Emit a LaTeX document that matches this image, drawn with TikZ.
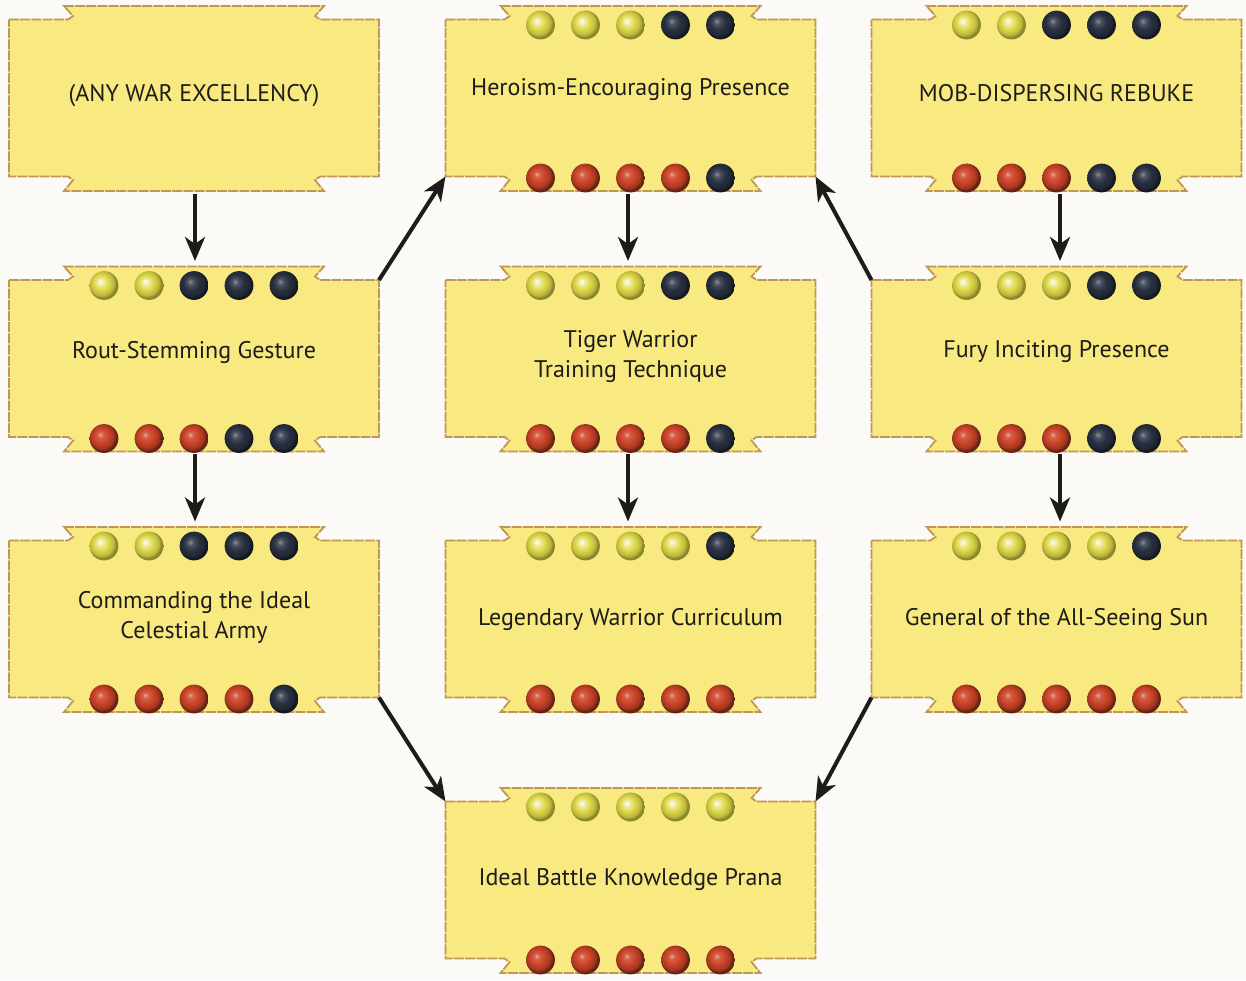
\documentclass[tikz,border=0pt]{standalone}
\usepackage{fontspec}
\setmainfont{PT Sans}
\usetikzlibrary{arrows.meta}
\definecolor{cardfill}{RGB}{248,233,128}
\definecolor{cardedge}{RGB}{192,150,84}
\definecolor{ycol}{RGB}{222,216,72}
\definecolor{dcol}{RGB}{40,48,64}
\definecolor{rcol}{RGB}{204,68,40}
\definecolor{bgcol}{RGB}{252,250,247}
\definecolor{inkcol}{RGB}{30,28,26}
\pgfdeclareradialshading{ballY}{\pgfpoint{-7bp}{7bp}}{color(0bp)=(white); color(4bp)=(ycol!40!white); color(13bp)=(ycol); color(21bp)=(ycol!85!black); color(25bp)=(ycol!62!black); color(50bp)=(ycol!62!black)}
\pgfdeclareradialshading{ballD}{\pgfpoint{-7bp}{7bp}}{color(0bp)=(dcol!55!white); color(6bp)=(dcol!85!white); color(14bp)=(dcol); color(22bp)=(dcol!80!black); color(25bp)=(dcol!50!black); color(50bp)=(dcol!50!black)}
\pgfdeclareradialshading{ballR}{\pgfpoint{-7bp}{7bp}}{color(0bp)=(rcol!45!white); color(5bp)=(rcol!85!white); color(13bp)=(rcol); color(21bp)=(rcol!80!black); color(25bp)=(rcol!50!black); color(50bp)=(rcol!50!black)}
\tikzset{
  cardnode/.style={rectangle, minimum width=185pt, minimum height=78.5pt, inner sep=0pt, outer sep=0pt},
  card/.style={fill=cardfill, draw=cardedge, line width=0.9pt, dash pattern=on 5pt off 0.6pt, line join=miter},
  lbl/.style={font=\fontsize{12}{15}\selectfont, align=center, text=inkcol, inner sep=1pt},
  arr/.style={draw=inkcol, line width=2pt, -{Stealth[length=12pt,width=10pt,inset=3.5pt]}},
}
% name, cx, cy, text y, text
\newcommand\card[5]{%
  \node[cardnode] (#1) at (#2,#3) {};
  \begin{scope}[shift={(#2,#3)}]
    \filldraw[card] (-185,-78.5) -- (-126,-78.5) -- (-121,-82) -- (-130,-92) -- (130,-92) -- (121,-82) -- (126,-78.5) -- (185,-78.5)
      -- (185,78.5) -- (126,78.5) -- (121,82) -- (130,93) -- (-130,93) -- (-121,82) -- (-126,78.5) -- (-185,78.5) -- cycle;
  \end{scope}
  \node[lbl] (#1-t) at (#2,#4) {#5};
}
% cx, cy, top list, bottom list
\newcommand\dotrow[4]{%
  \foreach \c [count=\i] in {#3} {\shade[shading=ball\c] (#1-135+45*\i,#2-73) circle[radius=7.2pt];}
  \foreach \c [count=\i] in {#4} {\shade[shading=ball\c] (#1-135+45*\i,#2+80) circle[radius=7.2pt];}
}
\begin{document}
\begin{tikzpicture}[x=0.5pt,y=-0.5pt]
\useasboundingbox (0,0) rectangle (1246,980);
\fill[bgcol] (0,0) rectangle (1246,980);

\card{any}{194}{98}{96}{(ANY WAR EXCELLENCY)}
\card{hero}{630.5}{98}{90}{Heroism-Encouraging Presence}
\dotrow{630.5}{98}{Y,Y,Y,D,D}{R,R,R,R,D}
\card{mob}{1056.5}{98}{93}{MOB-DISPERSING REBUKE}
\dotrow{1056.5}{98}{Y,Y,D,D,D}{R,R,R,D,D}

\card{rout}{194}{358.5}{352}{Rout-Stemming Gesture}
\dotrow{194}{358.5}{Y,Y,D,D,D}{R,R,R,D,D}
\card{tiger}{630.5}{358.5}{357}{Tiger Warrior\\Training Technique}
\dotrow{630.5}{358.5}{Y,Y,Y,D,D}{R,R,R,R,D}
\card{fury}{1056.5}{358.5}{352}{Fury Inciting Presence}
\dotrow{1056.5}{358.5}{Y,Y,Y,D,D}{R,R,R,D,D}

\card{cmd}{194}{619}{617.5}{Commanding the Ideal\\Celestial Army}
\dotrow{194}{619}{Y,Y,D,D,D}{R,R,R,R,D}
\card{leg}{630.5}{619}{619}{Legendary Warrior Curriculum}
\dotrow{630.5}{619}{Y,Y,Y,Y,D}{R,R,R,R,R}
\card{gen}{1056.5}{619}{619}{General of the All-Seeing Sun}
\dotrow{1056.5}{619}{Y,Y,Y,Y,D}{R,R,R,R,R}

\card{ideal}{630.5}{880}{880}{Ideal Battle Knowledge Prana}
\dotrow{630.5}{880}{Y,Y,Y,Y,Y}{R,R,R,R,R}

% vertical arrows
\draw[arr, shorten <=8.5pt, shorten >=9.5pt] ([xshift=0.5pt]any.south) -- ([xshift=0.5pt]rout.north);
\draw[arr, shorten <=8.5pt, shorten >=9.5pt] ([xshift=0.5pt]rout.south) -- ([xshift=0.5pt]cmd.north);
\draw[arr, shorten <=8.5pt, shorten >=9.5pt] ([xshift=-1.25pt]hero.south) -- ([xshift=-1.25pt]tiger.north);
\draw[arr, shorten <=8.5pt, shorten >=9.5pt] ([xshift=-1.25pt]tiger.south) -- ([xshift=-1.25pt]leg.north);
\draw[arr, shorten <=8.5pt, shorten >=9.5pt] ([xshift=1.75pt]mob.south) -- ([xshift=1.75pt]fury.north);
\draw[arr, shorten <=8.5pt, shorten >=9.5pt] ([xshift=1.75pt]fury.south) -- ([xshift=1.75pt]gen.north);
% diagonal arrows
\draw[arr] (rout.north east) -- (hero.south west);
\draw[arr] (fury.north west) -- (hero.south east);
\draw[arr] (cmd.south east) -- (ideal.north west);
\draw[arr] (gen.south west) -- (ideal.north east);
\end{tikzpicture}
\end{document}
